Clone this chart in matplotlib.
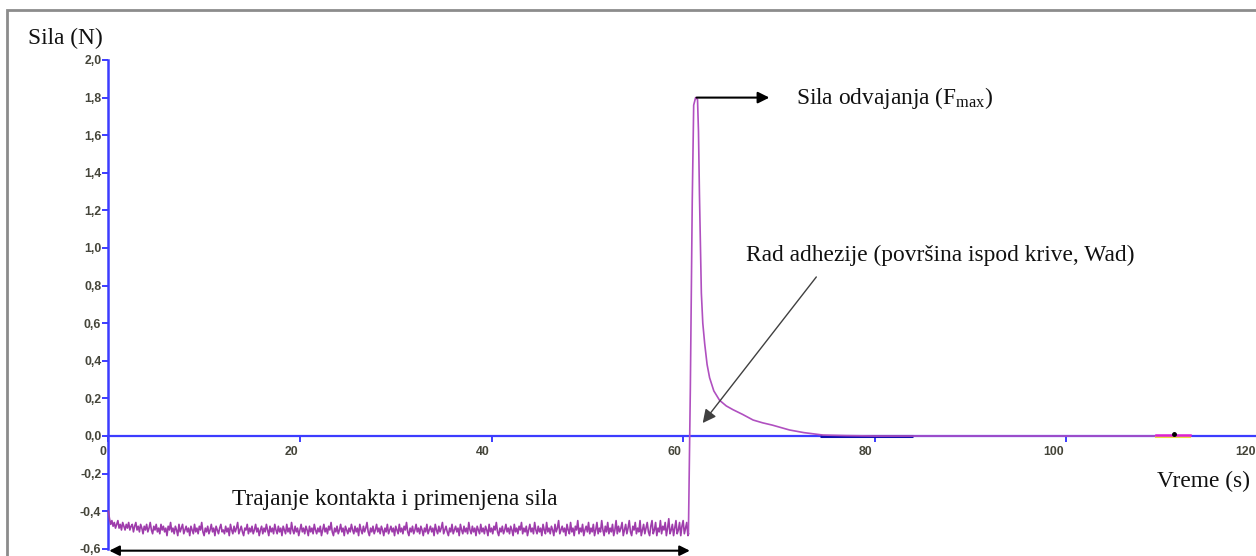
import matplotlib
matplotlib.use("Agg")
import matplotlib.pyplot as plt
import numpy as np
from matplotlib.ticker import FuncFormatter, FixedLocator
from matplotlib.patches import Rectangle
from matplotlib.transforms import ScaledTranslation

plt.rcParams['mathtext.fontset'] = 'custom'
plt.rcParams['mathtext.rm'] = 'Liberation Serif'
plt.rcParams['mathtext.it'] = 'Liberation Serif:italic'

# ---- data ----
contact_step = 0.125
contact_force = [
    -0.40, -0.44, -0.47, -0.45, -0.48, -0.46, -0.49, -0.47, -0.45, -0.49, -0.47, -0.50, -0.46, -0.48, -0.50, -0.47, -0.49, -0.46, -0.50, -0.48, -0.47, -0.51, -0.48, -0.46,
    -0.50, -0.48, -0.51, -0.47, -0.49, -0.52, -0.48, -0.50, -0.47, -0.51, -0.49, -0.46, -0.50, -0.52, -0.48, -0.50, -0.47, -0.51, -0.49, -0.52, -0.47, -0.50, -0.48, -0.51,
    -0.49, -0.53, -0.48, -0.50, -0.46, -0.51, -0.49, -0.52, -0.48, -0.50, -0.53, -0.47, -0.51, -0.49, -0.47, -0.52, -0.50, -0.48, -0.51, -0.49, -0.53, -0.48, -0.50, -0.52,
    -0.47, -0.51, -0.49, -0.52, -0.48, -0.50, -0.46, -0.51, -0.53, -0.49, -0.51, -0.48, -0.52, -0.50, -0.47, -0.51, -0.49, -0.53, -0.48, -0.50, -0.52, -0.49, -0.47, -0.51,
    -0.50, -0.52, -0.48, -0.51, -0.49, -0.53, -0.47, -0.50, -0.52, -0.48, -0.51, -0.49, -0.46, -0.52, -0.50, -0.48, -0.51, -0.53, -0.49, -0.50, -0.47, -0.52, -0.49, -0.51,
    -0.48, -0.52, -0.50, -0.47, -0.51, -0.49, -0.53, -0.50, -0.48, -0.52, -0.49, -0.51, -0.47, -0.50, -0.53, -0.48, -0.51, -0.49, -0.52, -0.47, -0.50, -0.52, -0.48, -0.51,
    -0.49, -0.53, -0.48, -0.50, -0.52, -0.47, -0.51, -0.49, -0.52, -0.46, -0.50, -0.52, -0.48, -0.51, -0.49, -0.53, -0.50, -0.47, -0.51, -0.49, -0.52, -0.48, -0.50, -0.53,
    -0.48, -0.51, -0.49, -0.52, -0.47, -0.50, -0.52, -0.49, -0.51, -0.48, -0.53, -0.50, -0.47, -0.51, -0.49, -0.52, -0.48, -0.50, -0.46, -0.51, -0.53, -0.49, -0.51, -0.48,
    -0.52, -0.50, -0.47, -0.51, -0.49, -0.53, -0.48, -0.50, -0.52, -0.49, -0.51, -0.47, -0.50, -0.52, -0.48, -0.51, -0.49, -0.53, -0.47, -0.50, -0.52, -0.48, -0.51, -0.49,
    -0.46, -0.51, -0.53, -0.49, -0.51, -0.48, -0.52, -0.50, -0.47, -0.51, -0.49, -0.52, -0.48, -0.50, -0.53, -0.49, -0.51, -0.47, -0.52, -0.50, -0.48, -0.51, -0.49, -0.53,
    -0.48, -0.50, -0.52, -0.47, -0.51, -0.49, -0.52, -0.48, -0.50, -0.46, -0.51, -0.53, -0.49, -0.51, -0.48, -0.52, -0.50, -0.47, -0.51, -0.49, -0.52, -0.48, -0.50, -0.53,
    -0.49, -0.51, -0.47, -0.52, -0.50, -0.48, -0.51, -0.49, -0.53, -0.47, -0.50, -0.52, -0.48, -0.51, -0.49, -0.46, -0.52, -0.50, -0.48, -0.51, -0.53, -0.49, -0.51, -0.47,
    -0.52, -0.50, -0.48, -0.51, -0.49, -0.53, -0.47, -0.50, -0.52, -0.48, -0.51, -0.49, -0.52, -0.46, -0.50, -0.52, -0.48, -0.51, -0.49, -0.53, -0.48, -0.50, -0.52, -0.47,
    -0.51, -0.49, -0.52, -0.48, -0.50, -0.53, -0.47, -0.51, -0.49, -0.52, -0.48, -0.50, -0.46, -0.51, -0.53, -0.49, -0.51, -0.48, -0.52, -0.50, -0.47, -0.51, -0.49, -0.52,
    -0.48, -0.50, -0.53, -0.47, -0.51, -0.49, -0.52, -0.48, -0.50, -0.46, -0.52, -0.49, -0.51, -0.48, -0.53, -0.50, -0.47, -0.51, -0.49, -0.52, -0.46, -0.50, -0.52, -0.48,
    -0.51, -0.49, -0.53, -0.47, -0.50, -0.52, -0.46, -0.51, -0.49, -0.52, -0.48, -0.50, -0.53, -0.47, -0.51, -0.49, -0.45, -0.52, -0.50, -0.48, -0.51, -0.49, -0.53, -0.47,
    -0.50, -0.52, -0.46, -0.51, -0.49, -0.53, -0.48, -0.50, -0.45, -0.52, -0.49, -0.51, -0.47, -0.53, -0.50, -0.48, -0.51, -0.46, -0.52, -0.49, -0.51, -0.47, -0.53, -0.50,
    -0.46, -0.52, -0.49, -0.51, -0.45, -0.50, -0.53, -0.48, -0.51, -0.46, -0.52, -0.49, -0.51, -0.47, -0.53, -0.50, -0.45, -0.52, -0.48, -0.51, -0.49, -0.46, -0.53, -0.50,
    -0.47, -0.52, -0.49, -0.45, -0.51, -0.53, -0.48, -0.50, -0.46, -0.52, -0.49, -0.51, -0.45, -0.53, -0.50, -0.47, -0.52, -0.49, -0.46, -0.51, -0.53, -0.48, -0.45, -0.52,
    -0.50, -0.46, -0.53, -0.49, -0.51, -0.45, -0.52, -0.48, -0.50, -0.46, -0.53, -0.49, -0.44, -0.52, -0.50, -0.47, -0.53, -0.49, -0.45, -0.52, -0.50, -0.46, -0.53, -0.48,
    -0.45, -0.52, -0.49, -0.46, -0.53,
]
detach_time = [60.55, 60.75, 60.95, 61.1, 61.3, 61.5, 61.6, 61.7, 61.9, 62.05, 62.25, 62.5, 62.76, 63.2, 63.8,
               64.5, 65.2, 66.2, 67.3, 68.3, 69.3, 70.2, 71.1, 72.6, 74.6, 77.0, 80.0, 85.0, 95.0, 112.9]
detach_force = [-0.52, 0.25, 1.25, 1.76, 1.80, 1.79, 1.62, 1.29, 0.76, 0.60, 0.49, 0.38, 0.31, 0.24, 0.19,
                0.16, 0.14, 0.115, 0.085, 0.07, 0.058, 0.045, 0.032, 0.018, 0.005, 0.002, 0.0, 0.0, 0.0, 0.0]
dark_segment = [74.3, 84.0]
marker_segment = [109.4, 112.9]
marker_point = [111.2, 0.01]

x_ticks = [0, 20, 40, 60, 80, 100, 120]
y_ticks = [-0.6, -0.4, -0.2, 0.0, 0.2, 0.4, 0.6, 0.8, 1.0, 1.2, 1.4, 1.6, 1.8, 2.0]

# ---- figure ----
W, H = 1256, 556
fig = plt.figure(figsize=(W / 100, H / 100), dpi=100)
fig.patch.set_facecolor('white')

# outer gray frame
fig.patches.append(Rectangle((7 / W, -0.2), 2.0, 1 - 10 / H + 0.2, transform=fig.transFigure,
                             fill=False, edgecolor='#8c8c8c', lw=2.0, zorder=0))

x0, x1 = 108.3, 1258.0
y_top, y_bot = 60.0, 548.8
ax = fig.add_axes([x0 / W, 1 - y_bot / H, (x1 - x0) / W, (y_bot - y_top) / H])
ax.set_xlim(0, 120)
ax.set_ylim(-0.6, 2.0)
ax.patch.set_alpha(0)

blue = '#3c3cff'
for s in ['top', 'right']:
    ax.spines[s].set_visible(False)
ax.spines['left'].set_color(blue)
ax.spines['left'].set_linewidth(1.8)
ax.spines['bottom'].set_position(('data', 0))
ax.spines['bottom'].set_color(blue)
ax.spines['bottom'].set_linewidth(1.6)
ax.spines['bottom'].set_zorder(1)

ax.xaxis.set_major_locator(FixedLocator(x_ticks))
ax.yaxis.set_major_locator(FixedLocator(y_ticks))
ax.yaxis.set_major_formatter(FuncFormatter(lambda v, p: f"{v:.1f}".replace('.', ',')))
ax.xaxis.set_major_formatter(FuncFormatter(lambda v, p: f"{int(v)}"))
ax.tick_params(axis='both', colors=blue, width=1.4, length=4.5, labelsize=8.8,
               labelcolor='#45453a', direction='out')
ax.tick_params(axis='x', pad=3.0)
ax.tick_params(axis='y', pad=0.5)
offset = ScaledTranslation(-1.5 / 72, 0, fig.dpi_scale_trans)
for lab in ax.get_xticklabels():
    lab.set_fontfamily('Liberation Sans')
    lab.set_fontweight('bold')
    lab.set_horizontalalignment('right')
    lab.set_transform(lab.get_transform() + offset)
for lab in ax.get_yticklabels():
    lab.set_fontfamily('Liberation Sans')
    lab.set_fontweight('bold')

purple = '#9e3cab'
contact_time = np.arange(len(contact_force)) * contact_step

ax.plot(dark_segment, [0, 0], color='#1010b0', lw=2.2, zorder=2, solid_capstyle='butt')
ax.plot(np.concatenate([contact_time, detach_time[:1]]), np.concatenate([contact_force, detach_force[:1]]),
        color=purple, lw=1.2, zorder=3, clip_on=False)
ax.plot(detach_time, detach_force, color='#b050c0', lw=1.2, zorder=3, clip_on=False)
ax.plot(marker_segment, [-0.004, -0.004], color='#e8e040', lw=1.5, zorder=3)
ax.plot(marker_segment, [0.006, 0.006], color='#e020d0', lw=1.8, zorder=4)
ax.plot([marker_point[0]], [marker_point[1]], 'o', color='black', ms=2.5, zorder=5)

serif = 'Liberation Serif'
fs = 16.8
tc = '#111111'
fig.text(28 / W, 1 - 38 / H, 'Sila (N)', fontfamily=serif, fontsize=fs, ha='left', va='center', color=tc)
ax.text(71.8, 1.80, 'Sila odvajanja (F$_{\\mathrm{max}}$)', fontfamily=serif, fontsize=fs,
        ha='left', va='center', color=tc)
ax.text(66.6, 0.963, 'Rad adhezije (površina ispod krive, Wad)', fontfamily=serif, fontsize=fs,
        ha='left', va='center', color=tc)
ax.text(12.9, -0.34, 'Trajanje kontakta i primenjena sila', fontfamily=serif, fontsize=fs,
        ha='left', va='center', color=tc)
ax.text(109.5, -0.24, 'Vreme (s)', fontfamily=serif, fontsize=fs, ha='left', va='center', color=tc)

# arrows
ax.annotate('', xy=(69.0, 1.80), xytext=(61.4, 1.80),
            arrowprops=dict(arrowstyle='-|>', color='black', lw=1.5, mutation_scale=17,
                            shrinkA=0, shrinkB=0), annotation_clip=False)
ax.annotate('', xy=(62.04, 0.069), xytext=(73.9, 0.846),
            arrowprops=dict(arrowstyle='-|>', color='#404040', lw=1.0, mutation_scale=20,
                            facecolor='black', shrinkA=0, shrinkB=0), annotation_clip=False)
ax.annotate('', xy=(60.7, -0.61), xytext=(0.1, -0.61),
            arrowprops=dict(arrowstyle='<|-|>', color='black', lw=1.5, mutation_scale=15,
                            shrinkA=0, shrinkB=0), annotation_clip=False)

fig.savefig('out.png', dpi=100, facecolor='white')
